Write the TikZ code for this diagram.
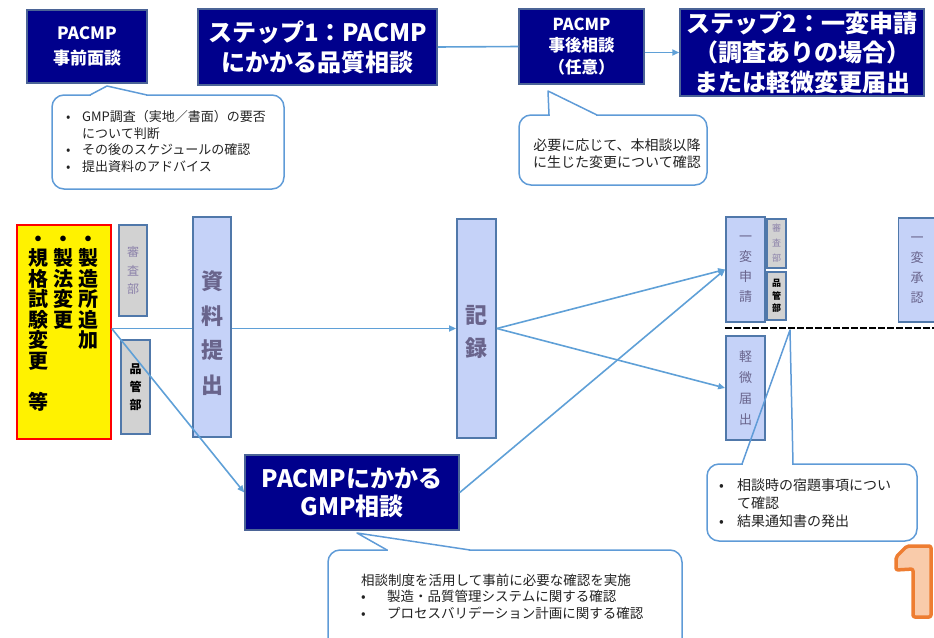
\documentclass[tikz,border=0pt]{standalone}
\usepackage{fontspec}
\setmainfont{Noto Sans CJK JP}
\usetikzlibrary{arrows.meta,backgrounds}
\definecolor{navy}{RGB}{0,0,140}
\definecolor{navyborder}{RGB}{75,100,150}
\definecolor{lav}{RGB}{197,210,248}
\definecolor{lavborder}{RGB}{80,120,170}
\definecolor{lavtext}{RGB}{105,100,140}
\definecolor{shinsatext}{RGB}{140,130,170}
\definecolor{grayfill}{RGB}{210,210,210}
\definecolor{connc}{RGB}{95,160,215}
\definecolor{calloutc}{RGB}{95,155,215}
\definecolor{orangeline}{RGB}{238,125,49}
\definecolor{orangefill}{RGB}{249,203,170}
\definecolor{txt}{RGB}{34,34,34}
\newcommand\myfs[2]{\fontsize{#1}{#2}\selectfont}
\tikzset{
  navybox/.style={draw=navyborder, line width=1.5pt, fill=navy, text=white, align=center, inner sep=0pt},
  lavbox/.style={draw=lavborder, line width=1.8pt, fill=lav, inner sep=0pt, align=center, text=lavtext},
  graybox/.style={draw=lavborder, line width=1.5pt, fill=grayfill, inner sep=0pt, align=center},
  connline/.style={draw=connc, line width=1.6pt},
  arr/.style={-{Triangle[length=7pt,width=6pt]}},
  calloutline/.style={draw=calloutc, line width=1.5pt},
  ycol/.style={anchor=north, inner sep=0pt, align=center, font={\bfseries\myfs{20}{20.5}}},
  vlab/.style={inner sep=0pt, align=center, text=lavtext},
  ctext/.style={inner sep=0pt, text=txt},
}
\begin{document}
\begin{tikzpicture}[x=1pt,y=-1pt]
\useasboundingbox (0,0) rectangle (934,637);
\clip (0,0) rectangle (934,637);

% top row
\node[navybox, minimum width=120pt, minimum height=73pt, font={\bfseries\myfs{17}{25}}] (pre) at (87,46.5) {PACMP\\事前面談};
\node[navybox, minimum width=239pt, minimum height=76pt, font={\bfseries\myfs{24}{30}}] (step1) at (317.5,47) {ステップ1：PACMP\\にかかる品質相談};
\node[navybox, minimum width=125pt, minimum height=75pt, font={\bfseries\myfs{16.5}{21.5}}] (post) at (581.5,46.5) {PACMP\\事後相談\\（任意）};
\node[navybox, minimum width=244pt, minimum height=87pt, font={\bfseries\myfs{24}{29.5}}] (step2) at (802,52.5) {ステップ2：一変申請\\（調査ありの場合）\\または軽微変更届出};

% left yellow box
\node[draw=red, line width=1.5pt, fill=yellow, minimum width=94pt, minimum height=214pt, inner sep=0pt] (yel) at (64,332) {};
\node[ycol] (ycol1) at (88,229) {\vphantom{製}・\\[-1pt]製\\造\\所\\追\\加};
\node[ycol] (ycol2) at (63,229) {\vphantom{製}・\\[-1pt]製\\法\\変\\更};
\node[ycol] (ycol3) at (38,229) {\vphantom{製}・\\[-1pt]規\\格\\試\\験\\変\\更\\\mbox{}\\等};

\node[graybox, minimum width=28pt, minimum height=91pt, text=shinsatext, font={\myfs{12}{18.5}}] (shinsa1) at (133,270.5) {審\\査\\部};
\node[graybox, minimum width=29pt, minimum height=94pt, text=black, font={\bfseries\myfs{12}{18}}] (hinkan1) at (135.5,387) {品\\管\\部};

\node[lavbox, minimum width=38pt, minimum height=220pt] (shiryo) at (212,327) {};
\node[vlab, font={\bfseries\myfs{22}{34.5}}] (shiryoT) at (212,333) {資\\料\\提\\出};
\node[lavbox, minimum width=39pt, minimum height=219pt] (kiroku) at (476.5,328.5) {};
\node[vlab, font={\bfseries\myfs{22}{33}}] (kirokuT) at (476.5,331.5) {記\\録};

\node[navybox, minimum width=214pt, minimum height=75pt, font={\bfseries\myfs{24}{28}}] (gmp) at (352,492.5) {PACMPにかかる\\GMP相談};

% right column
\node[lavbox, minimum width=39pt, minimum height=105pt, font={\myfs{13}{20}}] (ippen) at (745.5,269.5) {一\\変\\申\\請};
\node[graybox, minimum width=19pt, minimum height=49pt, text=shinsatext, font={\myfs{9}{15}}] (shinsa2) at (776.5,243.5) {審\\査\\部};
\node[graybox, minimum width=19pt, minimum height=48pt, text=black, font={\bfseries\myfs{9}{12.5}}] (hinkan2) at (776.5,296) {品\\管\\部};
\node[lavbox, minimum width=37pt, minimum height=104pt, font={\myfs{13}{20}}] (shonin) at (917,270) {一\\変\\承\\認};
\node[lavbox, minimum width=39pt, minimum height=104pt, font={\myfs{13}{21}}] (keibi) at (745.5,388) {軽\\微\\届\\出};

\coordinate (dashL) at (725,328);
\coordinate (dashR) at (934,328);
\draw[black, line width=2.2pt, dash pattern=on 7pt off 2pt] (dashL) -- (dashR);

% connectors
\begin{scope}[on background layer]
\draw[connline, arr] (yel.east |- kiroku.west) -- (kiroku.west);
\end{scope}
\draw[connline] (step1.east) -- (post.west);
\draw[connline, arr] (post.east |- step2.west) -- (step2.west);
\draw[connline, arr] (yel.east |- kiroku.west) -- (gmp.west);
\draw[connline, arr] (kiroku.east) -- (ippen.west);
\draw[connline, arr] (kiroku.east) -- (keibi.west);
\draw[connline, arr] (gmp.east) -- (ippen.west);

% callout 1
\draw[calloutline, rounded corners=12pt] (52,95) rectangle (284,189);
\fill[white] (91,93) rectangle (146,97);
\coordinate (c1a) at (90,95); \coordinate (c1t) at (107,86); \coordinate (c1b) at (147,95);
\draw[calloutline, line join=round] (c1a) -- (c1t) -- (c1b);
\node[ctext, anchor=west, font={\myfs{13}{16.7}}] (t1) at (66,143.3)
 {\begin{tabular}{@{}p{16pt}@{}l@{}}•&GMP調査（実地／書面）の要否\\&について判断\\•&その後のスケジュールの確認\\•&提出資料のアドバイス\end{tabular}};

% callout 2
\draw[calloutline, rounded corners=12pt] (519,115) rectangle (707,185);
\fill[white] (550,113) rectangle (596,117);
\coordinate (c2a) at (549,115); \coordinate (c2t) at (548,91); \coordinate (c2b) at (597,115);
\draw[calloutline, line join=round] (c2a) -- (c2t) -- (c2b);
\node[ctext, align=center, font={\myfs{14}{17}}] (t2) at (617,153.5) {必要に応じて、本相談以降\\に生じた変更について確認};

% callout 3
\draw[calloutline, rounded corners=12pt] (707,464) rectangle (917,541);
\fill[white] (743,462) rectangle (792,466);
\coordinate (c3a) at (742,464); \coordinate (c3t) at (790,330); \coordinate (c3b) at (793,464);
\draw[calloutline, line join=round] (c3a) -- (c3t) -- (c3b);
\node[ctext, anchor=west, font={\myfs{14}{18}}] (t3) at (719,505)
 {\begin{tabular}{@{}p{18pt}@{}l@{}}•&相談時の宿題事項につい\\&て確認\\•&結果通知書の発出\end{tabular}};

% callout 4
\draw[calloutline, rounded corners=12pt] (328,550) rectangle (682,660);
\fill[white] (388,548) rectangle (469,552);
\coordinate (c4a) at (387,550); \coordinate (c4t) at (357,533); \coordinate (c4b) at (470,550);
\draw[calloutline, line join=round] (c4a) -- (c4t) -- (c4b);
\node[ctext, anchor=west, font={\myfs{13.5}{16.5}}] (t4) at (361,598.5)
 {\begin{tabular}{@{}p{26pt}@{}l@{}}\multicolumn{2}{@{}l@{}}{相談制度を活用して事前に必要な確認を実施}\\•&製造・品質管理システムに関する確認\\•&プロセスバリデーション計画に関する確認\end{tabular}};

% orange 1
\draw[orangeline, line width=3.5pt, fill=orangefill, line join=round, rounded corners=2pt]
 (913,617) -- (913,569) -- (896,570) -- (896,557) -- (907,546) -- (931,546) -- (931,617) -- cycle;
\end{tikzpicture}
\end{document}
